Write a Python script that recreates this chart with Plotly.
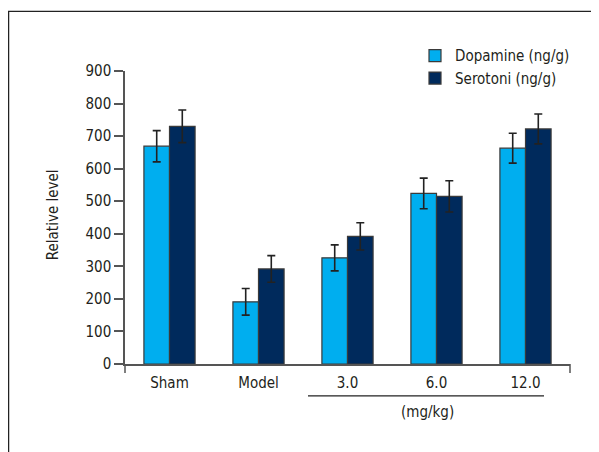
import plotly.graph_objects as go

categories = ["Sham", "Model", "3.0", "6.0", "12.0"]
dopamine = [669, 191, 326, 524, 663]
dopamine_err = [48, 41, 40, 47, 46]
serotonin = [730, 292, 392, 515, 722]
serotonin_err = [50, 41, 42, 48, 46]
y_ticks = [0, 100, 200, 300, 400, 500, 600, 700, 800, 900]

FONT = "DejaVu Sans Condensed, Liberation Sans Narrow, sans-serif"
FS = 15
TXT = "#231f20"
LIGHT = "#00aeef"
DARK = "#002a5c"
EDGE = "#3a3a3a"
AX = "#555555"

fig = go.Figure()
fig.add_trace(go.Bar(
    name="Dopamine (ng/g)", x=categories, y=dopamine,
    marker=dict(color=LIGHT, line=dict(color=EDGE, width=1.2)),
    error_y=dict(type="data", array=dopamine_err, color="#222222", thickness=1.6, width=4),
))
fig.add_trace(go.Bar(
    name="Serotoni (ng/g)", x=categories, y=serotonin,
    marker=dict(color=DARK, line=dict(color=EDGE, width=1.2)),
    error_y=dict(type="data", array=serotonin_err, color="#222222", thickness=1.6, width=4),
))

OFF = 8  # page body margin
W, H = 599 - OFF, 452 - OFF
PL, PR, PT, PB = 125, 570, 70.7, 364
L, R, T, B = PL - OFF, W - (PR - OFF), PT - OFF, H - (PB - OFF)
pw, ph = PR - PL, PB - PT

def px_x(p):
    return (p - PL) / pw

def px_y(p):
    return (PB - p) / ph

shapes = [
    dict(type="line", xref="paper", yref="paper", x0=px_x(8.6), x1=px_x(8.6), y0=px_y(11), y1=px_y(470),
         line=dict(color="#222222", width=1.3)),
    dict(type="line", xref="paper", yref="paper", x0=px_x(8), x1=px_x(620), y0=px_y(11), y1=px_y(11),
         line=dict(color="#222222", width=1.3)),
    dict(type="line", xref="paper", yref="paper", x0=0, x1=0, y0=0, y1=px_y(373),
         line=dict(color=AX, width=1.5)),
    dict(type="line", xref="paper", yref="paper", x0=1, x1=1, y0=0, y1=px_y(373),
         line=dict(color=AX, width=1.5)),
    dict(type="line", xref="paper", yref="paper", x0=px_x(308), x1=px_x(544), y0=px_y(396), y1=px_y(396),
         line=dict(color="#222222", width=1.3)),
]

annotations = [
    dict(text="(mg/kg)", xref="paper", yref="paper", x=px_x(427), y=px_y(412),
         showarrow=False, font=dict(family=FONT, size=FS, color=TXT), xanchor="center", yanchor="middle"),
    dict(text="Relative level", xref="paper", yref="paper", x=px_x(53), y=px_y(215),
         showarrow=False, textangle=-90, font=dict(family=FONT, size=FS, color=TXT),
         xanchor="center", yanchor="middle"),
]

fig.update_layout(
    width=W, height=H,
    margin=dict(l=L, r=R, t=T, b=B, pad=0),
    paper_bgcolor="white", plot_bgcolor="white",
    barmode="group", bargap=0.425, bargroupgap=0,
    font=dict(family=FONT, size=FS, color=TXT),
    shapes=shapes, annotations=annotations,
    showlegend=True,
    legend=dict(x=px_x(415), y=px_y(39), xanchor="left", yanchor="top",
                bgcolor="rgba(0,0,0,0)", font=dict(family=FONT, size=FS, color=TXT),
                itemwidth=30, tracegroupgap=0, traceorder="normal"),
    xaxis=dict(range=[-0.5, 4.5], showline=True, linecolor=AX, linewidth=1.5,
               ticks="", showgrid=False, zeroline=False, fixedrange=True,
               ticklabelstandoff=4,
               tickfont=dict(family=FONT, size=FS, color=TXT)),
    yaxis=dict(range=[0, 900], tickvals=y_ticks, showline=True, linecolor=AX, linewidth=1.5,
               ticks="outside", ticklen=9, tickwidth=1.5, tickcolor=AX,
               showgrid=False, zeroline=False, fixedrange=True,
               tickfont=dict(family=FONT, size=FS, color=TXT)),
)

fig.write_html("out.html")
